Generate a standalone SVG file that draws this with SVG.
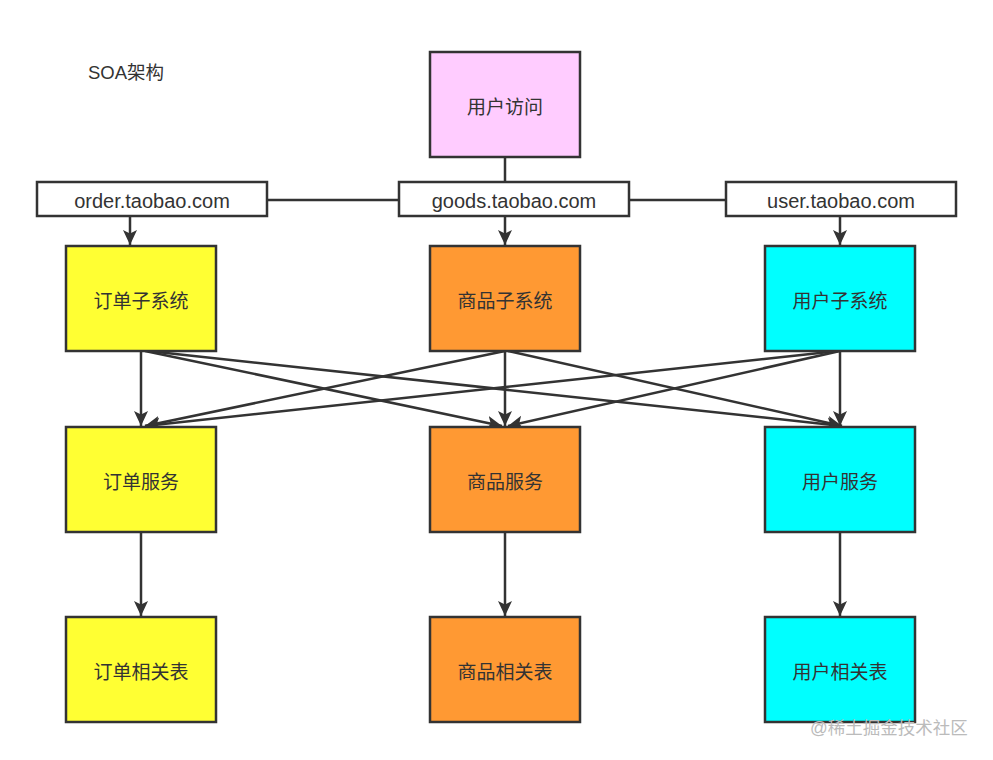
<svg xmlns="http://www.w3.org/2000/svg" width="993" height="760" viewBox="0 0 993 760">
<style>
.b{stroke:#333333;stroke-width:2.5}
.t{font-family:"Liberation Sans","Noto Sans CJK SC",sans-serif;font-size:19px;fill:#333333;text-anchor:middle;dominant-baseline:central}
.d{font-size:20px}
.c{stroke:#333333;stroke-width:2.5;fill:none}
.y{fill:#FFFF33}.o{fill:#FF9933}.cy{fill:#00FFFF}.w{fill:#FFFFFF}.p{fill:#FFCCFF}
</style>
<defs>
<marker id="a" markerUnits="userSpaceOnUse" markerWidth="16" markerHeight="16" viewBox="0 0 16 16" refX="15" refY="8" orient="auto">
<path d="M0,1 L15,8 L0,15 L3.5,8 Z" fill="#333333"/>
</marker>
</defs>
<rect width="993" height="760" fill="#FFFFFF"/>
<text x="88" y="72" class="t" style="text-anchor:start;font-size:18.5px">SOA架构</text>
<g id="connectors">
<line class="c" x1="505" y1="157" x2="505" y2="182"/>
<line class="c" x1="267" y1="200" x2="399" y2="200"/>
<line class="c" x1="629" y1="200" x2="726" y2="200"/>
<line class="c" x1="130" y1="216" x2="130" y2="245" marker-end="url(#a)"/>
<line class="c" x1="505" y1="216" x2="505" y2="245" marker-end="url(#a)"/>
<line class="c" x1="840" y1="216" x2="840" y2="245" marker-end="url(#a)"/>
<line class="c" x1="141" y1="351" x2="141" y2="426" marker-end="url(#a)"/>
<line class="c" x1="145" y1="351" x2="502" y2="426" marker-end="url(#a)"/>
<line class="c" x1="148" y1="351" x2="842" y2="426" marker-end="url(#a)"/>
<line class="c" x1="505" y1="351" x2="505" y2="426" marker-end="url(#a)"/>
<line class="c" x1="505" y1="351" x2="145" y2="426" marker-end="url(#a)"/>
<line class="c" x1="508" y1="351" x2="842" y2="426" marker-end="url(#a)"/>
<line class="c" x1="840" y1="351" x2="840" y2="426" marker-end="url(#a)"/>
<line class="c" x1="838" y1="351" x2="145" y2="426" marker-end="url(#a)"/>
<line class="c" x1="840" y1="351" x2="508" y2="426" marker-end="url(#a)"/>
<line class="c" x1="141" y1="532" x2="141" y2="616" marker-end="url(#a)"/>
<line class="c" x1="505" y1="532" x2="505" y2="616" marker-end="url(#a)"/>
<line class="c" x1="840" y1="532" x2="840" y2="616" marker-end="url(#a)"/>
</g>
<g id="user-access"><rect class="b p" x="430" y="52" width="150" height="105"/><text class="t" x="505" y="107">用户访问</text></g>
<g id="order-domain"><rect class="b w" x="37" y="182" width="230" height="34"/><text class="t d" x="152" y="201">order.taobao.com</text></g>
<g id="goods-domain"><rect class="b w" x="399" y="182" width="230" height="34"/><text class="t d" x="514" y="201">goods.taobao.com</text></g>
<g id="user-domain"><rect class="b w" x="726" y="182" width="230" height="34"/><text class="t d" x="841" y="201">user.taobao.com</text></g>
<g id="order-sub"><rect class="b y" x="66" y="246" width="150" height="105"/><text class="t" x="141" y="301">订单子系统</text></g>
<g id="goods-sub"><rect class="b o" x="430" y="246" width="150" height="105"/><text class="t" x="505" y="301">商品子系统</text></g>
<g id="user-sub"><rect class="b cy" x="765" y="246" width="150" height="105"/><text class="t" x="840" y="301">用户子系统</text></g>
<g id="order-svc"><rect class="b y" x="66" y="427" width="150" height="105"/><text class="t" x="141" y="482">订单服务</text></g>
<g id="goods-svc"><rect class="b o" x="430" y="427" width="150" height="105"/><text class="t" x="505" y="482">商品服务</text></g>
<g id="user-svc"><rect class="b cy" x="765" y="427" width="150" height="105"/><text class="t" x="840" y="482">用户服务</text></g>
<g id="order-tbl"><rect class="b y" x="66" y="617" width="150" height="105"/><text class="t" x="141" y="672">订单相关表</text></g>
<g id="goods-tbl"><rect class="b o" x="430" y="617" width="150" height="105"/><text class="t" x="505" y="672">商品相关表</text></g>
<g id="user-tbl"><rect class="b cy" x="765" y="617" width="150" height="105"/><text class="t" x="840" y="672">用户相关表</text></g>
<text x="810" y="728" style="font-family:'Liberation Sans','Noto Sans CJK SC',sans-serif;font-size:17.5px;fill:#BBBBBB;dominant-baseline:central">@稀土掘金技术社区</text>
</svg>
